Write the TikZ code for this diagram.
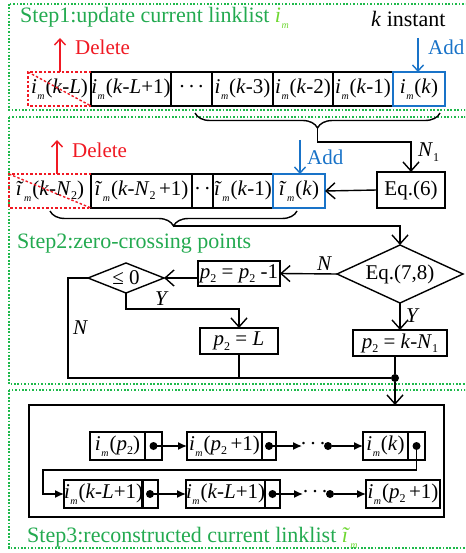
\documentclass[tikz,border=0pt]{standalone}
\usepackage{fontspec}
\setmainfont{Liberation Serif}
\usetikzlibrary{arrows.meta,shapes.geometric,decorations.pathreplacing,calc}

\definecolor{framegreen}{RGB}{30,185,75}
\definecolor{titlegreen}{RGB}{35,170,80}
\definecolor{ilight}{RGB}{110,215,50}
\definecolor{delred}{RGB}{240,25,35}
\definecolor{addblue}{RGB}{25,115,200}

% subscripts and sample symbols
\newcommand\sbs[1]{\raisebox{-4.5pt}{\fontsize{12}{12}\selectfont #1}}
\newcommand\sbm{\kern0.5pt\raisebox{-6pt}{\fontsize{10}{10}\selectfont\textit{m}}\kern1pt}
\newcommand\im{\textit{i}\sbm}
\newcommand\tim{\textit{ĩ}\sbm}
\newcommand\vk{\textit{k}}
\newcommand\vL{\textit{L}}
\newcommand\vN{\textit{N}}
\newcommand\vp{\textit{p}}
\newcommand\hdots{\textperiodcentered\kern2.5pt\textperiodcentered\kern2.5pt\textperiodcentered}

\begin{document}
\begin{tikzpicture}[x=1pt,y=-1pt,
  font=\fontsize{21}{24}\selectfont,
  wire/.style={line width=1.4pt},
  frame/.style={draw=framegreen,line width=1.7pt,dash pattern=on 1.7pt off 1.7pt},
  cell/.style={draw,line width=1.4pt,minimum height=34pt,inner sep=0pt,outer sep=0pt,anchor=west},
  bluecell/.style={cell,draw=addblue},
  redcell/.style={cell,draw=none},
  reddash/.style={draw=delred,line width=1.4pt,dash pattern=on 2.5pt off 2pt},
  box/.style={draw,line width=1.4pt,inner sep=0pt,outer sep=0pt},
  lnode/.style={draw,line width=1.4pt,minimum height=28pt,inner sep=0pt,outer sep=0pt,anchor=west},
  arr/.style={wire,-{Straight Barb[length=9pt,width=16pt,line width=1.4pt]}},
  carr/.style={wire,-{Straight Barb[length=6pt,width=11pt,line width=1.4pt]}},
  larr/.style={wire,-{Latex[length=9pt,width=8pt]}},
  brace/.style={wire,decorate,decoration={brace,amplitude=15pt,mirror}},
  lbl/.style={anchor=base west,inner sep=0pt},
  title/.style={lbl,text=titlegreen,font=\fontsize{22}{24}\selectfont},
  dot/.style={circle,fill,inner sep=0pt,minimum size=8pt}
]
\path[use as bounding box] (0,0) rectangle (465,553);
\clip (0,0) rectangle (465,553);

% ---------------- dotted step frames ----------------
\draw[frame] (9,4) rectangle (472,110);
\draw[frame] (9,117) rectangle (472,384);
\draw[frame] (9,390) rectangle (472,548);

% ---------------- Step 1 ----------------
\node[title] (t1) at (20,23) {Step1:update current linklist \textcolor{ilight}{\im}};
\node[lbl,font=\fontsize{22}{24}\selectfont] (kin) at (371,27) {\vk{} instant};

\node[redcell,minimum width=63pt] (c0) at (28,89) {\im(\vk-\vL)};
\node[cell,minimum width=80pt] (c1) at (91,89) {\im(\vk-\vL+1)};
\node[cell,minimum width=41pt] (c2) at (171,89) {\hdots};
\node[cell,minimum width=61pt] (c3) at (212,89) {\im(\vk-3)};
\node[cell,minimum width=60pt] (c4) at (273,89) {\im(\vk-2)};
\node[cell,minimum width=60pt] (c5) at (333,89) {\im(\vk-1)};
\node[bluecell,minimum width=52pt] (c6) at (393,89) {\im(\vk)};
\draw[reddash] (c0.north east) -- (c0.north west) -- (c0.south west) -- (c0.south east);
\draw[reddash] (c0.north west) -- (c0.south east);

\node[lbl,text=delred] (del1) at (75,55) {Delete};
\coordinate (up1) at (60,38);
\draw[carr,delred] (up1 |- c0.north) -- (up1);
\node[lbl,text=addblue] (add1) at (428,55) {Add};
\coordinate (dn1) at (418,38);
\draw[carr,addblue] (dn1) -- (dn1 |- c6.north);

% brace over the newest samples, feeding Eq.(6)
\coordinate (b1s) at (195,113);
\coordinate (b1e) at (440,113);
\draw[brace] (b1s) -- (b1e);
\coordinate (br1) at (317.5,128);
\coordinate (k1) at (317.5,142);

% ---------------- Step 2 ----------------
\node[box,minimum width=68pt,minimum height=36pt] (eq6) at (411,190) {Eq.(6)};
\draw[arr] (br1) -- (k1) -| (eq6.north);
\node[lbl] (lN1) at (418,157) {\vN\sbs{1}};

\node[redcell,minimum width=82pt] (d0) at (9,191) {\tim(\vk-\vN\sbs{2})};
\node[cell,minimum width=101pt] (d1) at (91,191) {\tim(\vk-\vN\sbs{2}\,+1)};
\node[cell,minimum width=21pt] (d2) at (192,191) {\textperiodcentered\kern3pt\textperiodcentered};
\node[cell,minimum width=60pt] (d3) at (213,191) {\tim(\vk-1)};
\node[bluecell,minimum width=52pt] (d4) at (273,191) {\tim(\vk)};
\draw[reddash] (d0.north east) -- (d0.north west) -- (d0.south west) -- (d0.south east);
\draw[reddash] (d0.north west) -- (d0.south east);
\draw[arr] (eq6.west) -- (d4.east);

\node[lbl,text=delred] (del2) at (72,158) {Delete};
\coordinate (up2) at (57,140);
\draw[carr,delred] (up2 |- d0.north) -- (up2);
\node[lbl,text=addblue] (add2) at (307,165) {Add};
\coordinate (dn2) at (300,140);
\draw[carr,addblue] (dn2) -- (dn2 |- d4.north);

\coordinate (b2s) at (50,211);
\coordinate (b2e) at (297,211);
\draw[brace] (b2s) -- (b2e);
\coordinate (br2) at (173.5,226);

\node[title] (t2) at (17,248) {Step2:zero-crossing points};

\node[box,shape=diamond,aspect=2.17,minimum width=126pt,minimum height=58pt] (d78) at (400,274) {Eq.(7,8)};
\draw[arr] (br2) -| (d78.north);

\node[box,minimum width=82pt,minimum height=25pt] (b1) at (239,273.5) {\vp\sbs{2} = \vp\sbs{2} -1};
\draw[arr] (d78.west) -- (b1.east);
\node[lbl] (lN) at (317,270) {\textit{N}};

\node[box,shape=diamond,aspect=2.5,minimum width=76pt,minimum height=30pt] (sd) at (126,278) {≤ 0};
\draw[arr] (b1.west |- sd.east) -- (sd.east);

\node[box,minimum width=78pt,minimum height=26pt] (b2) at (239,341) {\vp\sbs{2} = \vL};
\coordinate (sy) at (126,309);
\draw[arr] (sd.south) -- (sy) -| (b2.north);
\node[lbl] (lY1) at (155,305) {\textit{Y}};

\node[box,minimum width=94pt,minimum height=26pt] (b3) at (400,343) {\vp\sbs{2} = \vk-\vN\sbs{1}};
\draw[arr] (d78.south) -- (b3.north);
\node[lbl] (lY2) at (406,322) {\textit{Y}};

\node[dot] (j) at (395,378) {};
\coordinate (nl) at (68,378);
\draw[wire] (sd.west) -| (nl) -- (j);
\node[lbl] (lN2) at (73,334) {\textit{N}};
\draw[wire] (b2.south) -- (b2.south |- j);
\draw[wire] (b3.south -| j) -- (j);

% ---------------- Step 3 ----------------
\node[box,minimum width=415pt,minimum height=112pt] (outer) at (236.5,461) {};
\draw[arr] (j) -- (j |- outer.north);

% first row of the rebuilt list
\node[lnode,minimum width=55pt] (n1t) at (90,446) {\im(\vp\sbs{2})};
\node[lnode,minimum width=17pt] (n1p) at (145,446) {};
\node[lnode,minimum width=75pt] (n2t) at (187,446) {\im(\vp\sbs{2}\,+1)};
\node[lnode,minimum width=14pt] (n2p) at (262,446) {};
\node[lnode,minimum width=45pt] (n3t) at (363,446) {\im(\vk)};
\node[lnode,minimum width=17pt] (n3p) at (408,446) {};
\coordinate (e1) at (302,446);
\node[inner sep=0pt] (dd1) at (313,446) {\hdots};
\node[dot] (s1) at (328,446) {};

% second row
\node[lnode,minimum width=78pt] (n4t) at (64,494) {\im(\vk-\vL+1)};
\node[lnode,minimum width=16pt] (n4p) at (142,494) {};
\node[lnode,minimum width=79pt] (n5t) at (186,494) {\im(\vk-\vL+1)};
\node[lnode,minimum width=15pt] (n5p) at (265,494) {};
\node[lnode,minimum width=74pt] (n6t) at (366,494) {\im(\vp\sbs{2}\,+1)};
\coordinate (e2) at (303,494);
\node[inner sep=0pt] (dd2) at (315,494) {\hdots};
\node[dot] (s2) at (330,494) {};

\foreach \p in {n1p,n2p,n3p,n4p,n5p} \node[dot] at (\p.center) {};
\draw[larr] (n1p.center) -- (n2t.west);
\draw[larr] (n2p.center) -- (e1);
\draw[larr] (s1) -- (n3t.west);
\coordinate (w1) at (43,470);
\draw[larr] (n3p.center) |- (w1) |- (n4t.west);
\draw[larr] (n4p.center) -- (n5t.west);
\draw[larr] (n5p.center) -- (e2);
\draw[larr] (s2) -- (n6t.west);

\node[title] (t3) at (27,542) {Step3:reconstructed current linklist \textcolor{ilight}{\tim}};
\end{tikzpicture}
\end{document}
